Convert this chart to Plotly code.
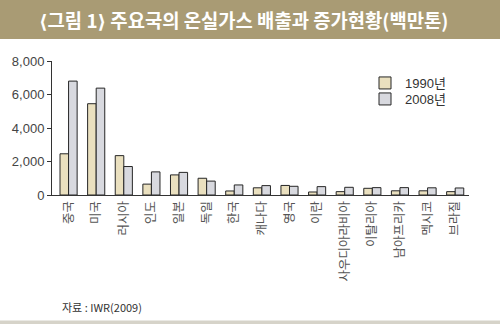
import plotly.graph_objects as go

# Greenhouse gas emissions by country, million tonnes
countries = ["중국", "미국", "러시아", "인도", "일본", "독일", "한국", "캐나다", "영국",
             "이란", "사우디아라비아", "이탈리아", "남아프리카", "멕시코", "브라질"]
emis_1990 = [2460, 5450, 2350, 650, 1200, 1000, 240, 430, 570, 180, 200, 400, 250, 250, 200]
emis_2008 = [6800, 6380, 1700, 1380, 1350, 830, 600, 560, 520, 500, 460, 440, 440, 430, 420]
series_names = ["1990년", "2008년"]
y_ticks = [0, 2000, 4000, 6000, 8000]

W, H = 500, 324
L, R, T, B = 52, 31, 61, 129
plot_w, plot_h = W - L - R, H - T - B


def px_x(p):
    return (p - L) / plot_w


def px_y(p):
    return (H - B - p) / plot_h


base_font = "Liberation Sans, Arial, Noto Sans CJK KR"
kr_font = "Noto Sans CJK KR, Liberation Sans"

fig = go.Figure()
fig.add_trace(go.Bar(
    x=countries, y=emis_1990, name=series_names[0], legend="legend",
    marker=dict(color="#eae0bf", line=dict(color="#262626", width=1)),
))
fig.add_trace(go.Bar(
    x=countries, y=emis_2008, name=series_names[1], legend="legend2",
    marker=dict(color="#d8d9df", line=dict(color="#262626", width=1)),
))

shapes = [
    # header band
    dict(type="rect", xref="paper", yref="paper",
         x0=px_x(0), x1=px_x(W), y0=px_y(39), y1=px_y(0),
         fillcolor="#a99b74", line=dict(width=0), layer="below"),
    # footer rule
    dict(type="rect", xref="paper", yref="paper",
         x0=px_x(0), x1=px_x(W), y0=px_y(324), y1=px_y(320.5),
         fillcolor="#d6d3c9", line=dict(width=0), layer="below"),
]

bracket = '<span style="font-family:DejaVu Sans">{}</span>'
title_text = (bracket.format("⟨") + "그림 1" + bracket.format("⟩")
              + " 주요국의 온실가스 배출과 증가현황(백만톤)")

annotations = [
    dict(text=title_text,
         xref="paper", yref="paper", x=px_x(37), y=px_y(19.5),
         xanchor="left", yanchor="middle", showarrow=False,
         font=dict(family=kr_font, size=18.8, color="white", weight="bold")),
    dict(text="자료 : IWR(2009)",
         xref="paper", yref="paper", x=px_x(60), y=px_y(307),
         xanchor="left", yanchor="middle", showarrow=False,
         font=dict(family=kr_font, size=11, color="#333333")),
]

legend_style = dict(xanchor="left", yanchor="middle", bgcolor="rgba(0,0,0,0)",
                    font=dict(family=base_font, size=13, color="#333333"),
                    itemwidth=30)

fig.update_layout(
    width=W, height=H,
    margin=dict(l=L, r=R, t=T, b=B, pad=0),
    paper_bgcolor="white", plot_bgcolor="white",
    barmode="group", bargap=0.38, bargroupgap=0.0,
    font=dict(family=base_font, size=13, color="#444444"),
    showlegend=True,
    legend=dict(x=px_x(365), y=px_y(83), **legend_style),
    legend2=dict(x=px_x(365), y=px_y(99), **legend_style),
    shapes=shapes, annotations=annotations,
    xaxis=dict(range=[-0.6, 14.5], showline=True, linecolor="#333333", linewidth=1,
               ticks="", tickangle=-90, showgrid=False, zeroline=False,
               tickfont=dict(family=kr_font, size=12.5, color="#555555")),
    yaxis=dict(range=[0, 8000], tickvals=y_ticks, tickformat=",d",
               showline=True, linecolor="#333333", linewidth=1,
               ticks="outside", ticklen=4, tickcolor="#333333",
               showgrid=False, zeroline=False,
               tickfont=dict(size=13, color="#444444")),
)

fig.write_html("out.html")
